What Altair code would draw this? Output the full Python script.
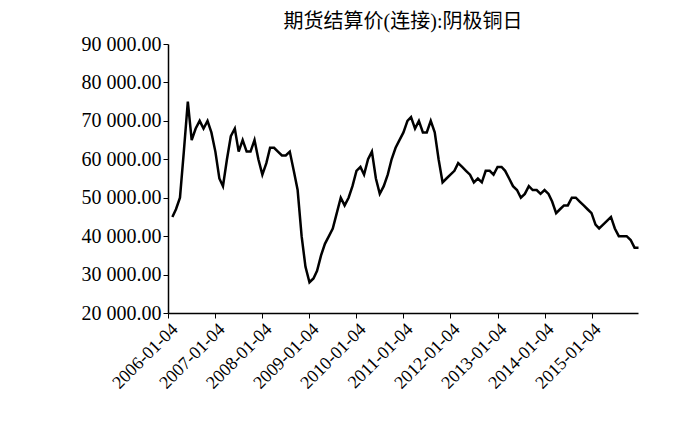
import altair as alt
import pandas as pd

months = pd.date_range("2006-01-04", periods=120, freq="MS") + pd.Timedelta(days=3)
prices = [
    45000, 47000, 50000, 62000, 75000, 65000, 68000, 70000, 68000, 70000, 67000, 62000,
    55000, 53000, 60000, 66000, 68000, 62000, 65000, 62000, 62000, 65000, 60000, 56000,
    59000, 63000, 63000, 62000, 61000, 61000, 62000, 57000, 52000, 40000, 32000, 28000,
    29000, 31000, 35000, 38000, 40000, 42000, 46000, 50000, 48000, 50000, 53000, 57000,
    58000, 56000, 60000, 62000, 55000, 51000, 53000, 56000, 60000, 63000, 65000, 67000,
    70000, 71000, 68000, 70000, 67000, 67000, 70000, 67000, 60000, 54000, 55000, 56000,
    57000, 59000, 58000, 57000, 56000, 54000, 55000, 54000, 57000, 57000, 56000, 58000,
    58000, 57000, 55000, 53000, 52000, 50000, 51000, 53000, 52000, 52000, 51000, 52000,
    51000, 49000, 46000, 47000, 48000, 48000, 50000, 50000, 49000, 48000, 47000, 46000,
    43000, 42000, 43000, 44000, 45000, 42000, 40000, 40000, 40000, 39000, 37000, 37000,
]
tick_dates = [f"{y}-01-04" for y in range(2006, 2016)]

df = pd.DataFrame({"date": months, "price": prices})

font = "Liberation Serif, Noto Sans CJK SC"

chart = (alt.Chart(df).mark_line(color="black", strokeWidth=2.5)
         .encode(x=alt.X("date:T",
                         scale=alt.Scale(domain=["2006-01-01", "2015-12-31"]),
                         axis=alt.Axis(values=tick_dates, format="%Y-%m-%d", labelAngle=-45,
                                       title=None, grid=False, labelFontSize=18,
                                       labelOverlap=False,
                                       labelAlign="right", labelBaseline="top")),
                 y=alt.Y("price:Q",
                         scale=alt.Scale(domain=[20000, 90000], nice=False),
                         axis=alt.Axis(values=list(range(20000, 90001, 10000)),
                                       labelExpr="replace(format(datum.value, ',.2f'), ',', ' ')",
                                       title=None, grid=False, labelFontSize=20)))
         .properties(width=470, height=269,
                     padding={"left": 73, "top": 4, "right": 5, "bottom": 5},
                     title=alt.TitleParams("期货结算价(连接):阴极铜日", fontSize=20,
                                           fontWeight="normal", font=font, offset=2))
         .configure_axis(labelFont=font, labelColor="black", domainColor="black",
                         tickColor="black", domainWidth=1.5)
         .configure_view(stroke=None)
        )
chart.save("out.html", embed_options={"renderer": "svg", "actions": False})
